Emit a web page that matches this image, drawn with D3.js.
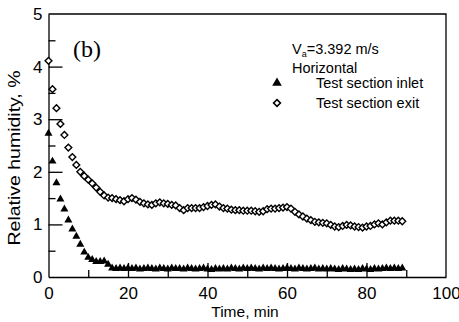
<!DOCTYPE html>
<meta charset="utf-8">
<style>
  html, body {
      margin: 0;
      padding: 0;
      background: #fff;
      overflow: hidden;
  }
  text {
      font-family: "Liberation Sans", Arial, sans-serif;
      fill: #000;
  }
  .axis path, .axis line {
      stroke: #000;
      stroke-width: 1.3px;
  }
</style>
<body>
</body>
<script src="https://cdn.jsdelivr.net/npm/d3@7"></script>
<script>

  var width = 459;
  var height = 322;

  /* data (time in min, relative humidity in %) */
  var time = [0, 1, 2, 3, 4, 5, 6, 7, 8, 9,
	      10, 11, 12, 13, 14, 15, 16, 17, 18, 19,
	      20, 21, 22, 23, 24, 25, 26, 27, 28, 29,
	      30, 31, 32, 33, 34, 35, 36, 37, 38, 39,
	      40, 41, 42, 43, 44, 45, 46, 47, 48, 49,
	      50, 51, 52, 53, 54, 55, 56, 57, 58, 59,
	      60, 61, 62, 63, 64, 65, 66, 67, 68, 69,
	      70, 71, 72, 73, 74, 75, 76, 77, 78, 79,
	      80, 81, 82, 83, 84, 85, 86, 87, 88, 89];

  var inlet = [2.73, 2.20, 1.79, 1.48, 1.29, 1.08, 0.91, 0.77, 0.62, 0.47,
	       0.37, 0.33, 0.29, 0.29, 0.30, 0.24, 0.17, 0.16, 0.17, 0.16,
	       0.17, 0.16, 0.17, 0.15, 0.16, 0.17, 0.16, 0.15, 0.17, 0.16,
	       0.15, 0.17, 0.16, 0.16, 0.15, 0.17, 0.16, 0.15, 0.16, 0.17,
	       0.15, 0.14, 0.16, 0.15, 0.16, 0.15, 0.17, 0.16, 0.15, 0.17,
	       0.16, 0.17, 0.16, 0.15, 0.17, 0.16, 0.17, 0.16, 0.15, 0.16,
	       0.17, 0.16, 0.15, 0.17, 0.16, 0.15, 0.16, 0.17, 0.15, 0.16,
	       0.15, 0.16, 0.15, 0.14, 0.16, 0.15, 0.14, 0.15, 0.14, 0.16,
	       0.15, 0.14, 0.16, 0.15, 0.16, 0.17, 0.16, 0.17, 0.16, 0.17];

  var exit = [4.11, 3.57, 3.21, 2.91, 2.70, 2.46, 2.28, 2.13, 2.00, 1.92,
	      1.85, 1.78, 1.70, 1.62, 1.55, 1.51, 1.50, 1.48, 1.46, 1.44,
	      1.48, 1.50, 1.47, 1.43, 1.40, 1.38, 1.37, 1.40, 1.42, 1.40,
	      1.39, 1.37, 1.36, 1.31, 1.27, 1.31, 1.31, 1.31, 1.31, 1.33,
	      1.35, 1.37, 1.38, 1.34, 1.31, 1.30, 1.28, 1.27, 1.27, 1.26,
	      1.26, 1.26, 1.25, 1.24, 1.25, 1.29, 1.30, 1.30, 1.31, 1.32,
	      1.33, 1.30, 1.24, 1.19, 1.15, 1.11, 1.08, 1.05, 1.04, 1.03,
	      1.02, 0.99, 0.96, 0.95, 0.97, 0.99, 0.98, 0.96, 0.95, 0.94,
	      0.96, 0.97, 1.00, 1.02, 1.00, 1.04, 1.07, 1.07, 1.07, 1.06];

  var xMajorTicks = [0, 20, 40, 60, 80, 100];
  var xMinorTicks = [10, 30, 50, 70, 90];
  var yMajorTicks = [0, 1, 2, 3, 4, 5];
  var yMinorTicks = [0.5, 1.5, 2.5, 3.5, 4.5];

  var legendNames = ["Test section inlet", "Test section exit"];

  var plotLeft = 48.5, plotRight = 446, plotTop = 14, plotBottom = 277;

  var x = d3.scaleLinear().domain([0, 100]).range([plotLeft, plotRight]);
  var y = d3.scaleLinear().domain([0, 5]).range([plotBottom, plotTop]);

  var svg = d3.select("body").append("svg")
      .attr("width", width)
      .attr("height", height);

  /* frame: top and right are plain lines */
  svg.append("path")
      .attr("d", `M${plotLeft},${plotTop}H${plotRight}V${plotBottom}`)
      .attr("fill", "none")
      .attr("stroke", "#000")
      .attr("stroke-width", 1.3);

  /* axes, ticks pointing inward */
  var xAxis = svg.append("g")
      .attr("class", "axis")
      .attr("transform", `translate(0,${plotBottom})`)
      .call(d3.axisBottom(x).tickValues(xMajorTicks).tickSize(-14).tickSizeOuter(0).tickPadding(6).tickFormat(d3.format("d")));
  svg.append("g")
      .attr("class", "axis")
      .attr("transform", `translate(0,${plotBottom})`)
      .call(d3.axisBottom(x).tickValues(xMinorTicks).tickSize(-7).tickFormat(""))
      .select(".domain").remove();

  var yAxis = svg.append("g")
      .attr("class", "axis")
      .attr("transform", `translate(${plotLeft},0)`)
      .call(d3.axisLeft(y).tickValues(yMajorTicks).tickSize(-14).tickSizeOuter(0).tickPadding(6).tickFormat(d3.format("d")));
  svg.append("g")
      .attr("class", "axis")
      .attr("transform", `translate(${plotLeft},0)`)
      .call(d3.axisLeft(y).tickValues(yMinorTicks).tickSize(-7).tickFormat(""))
      .select(".domain").remove();

  svg.selectAll(".axis text")
      .style("font-family", "'Liberation Sans', Arial, sans-serif")
      .style("font-size", "17px");
  xAxis.selectAll(".tick text").attr("dy", "0.95em");
  xAxis.selectAll(".tick line").filter(d => d == 0 || d == 100).remove();
  yAxis.selectAll(".tick line").filter(d => d == 0 || d == 5).remove();

  /* axis titles */
  svg.append("text")
      .attr("x", 245)
      .attr("y", 317)
      .attr("text-anchor", "middle")
      .style("font-size", "15.5px")
      .text("Time, min");

  svg.append("text")
      .attr("transform", "translate(20,158) rotate(-90)")
      .attr("text-anchor", "middle")
      .attr("textLength", 175)
      .attr("lengthAdjust", "spacingAndGlyphs")
      .style("font-size", "17px")
      .text("Relative humidity, %");

  /* panel label */
  svg.append("text")
      .attr("x", 73)
      .attr("y", 57)
      .style("font-family", "'Liberation Serif', 'Times New Roman', serif")
      .style("font-size", "24px")
      .text("(b)");

  /* markers */
  var triangle = d3.symbol().type(d3.symbolTriangle).size(28);
  var diamond = "M0,-3.4L3.4,0L0,3.4L-3.4,0Z";

  var points = time.map((t, i) => ({t: t, inlet: inlet[i], exit: exit[i]}));

  svg.append("g").selectAll("path")
      .data(points)
      .enter().append("path")
      .attr("d", diamond)
      .attr("transform", d => `translate(${x(d.t)},${y(d.exit)})`)
      .attr("fill", "#fff")
      .attr("stroke", "#000")
      .attr("stroke-width", 1.4);

  svg.append("g").selectAll("path")
      .data(points)
      .enter().append("path")
      .attr("d", triangle)
      .attr("transform", d => `translate(${x(d.t)},${y(d.inlet)})`)
      .attr("fill", "#000");

  /* legend */
  var legend = svg.append("g").style("font-size", "14.5px");
  var va = legend.append("text").attr("x", 292).attr("y", 54);
  va.append("tspan").text("V");
  va.append("tspan").attr("dy", 3).style("font-size", "9px").text("a");
  va.append("tspan").attr("dy", -3).text("=3.392 m/s");
  legend.append("text").attr("x", 292).attr("y", 73).text("Horizontal");

  legend.append("path")
      .attr("d", d3.symbol().type(d3.symbolTriangle).size(40))
      .attr("transform", "translate(277,83)")
      .attr("fill", "#000");
  legend.append("path")
      .attr("d", diamond)
      .attr("transform", "translate(277,103)")
      .attr("fill", "#fff")
      .attr("stroke", "#000")
      .attr("stroke-width", 1.6);
  legend.selectAll("text.name")
      .data(legendNames)
      .enter().append("text")
      .attr("class", "name")
      .attr("x", 316)
      .attr("y", (d, i) => 88 + i * 20)
      .text(d => d);

</script>
